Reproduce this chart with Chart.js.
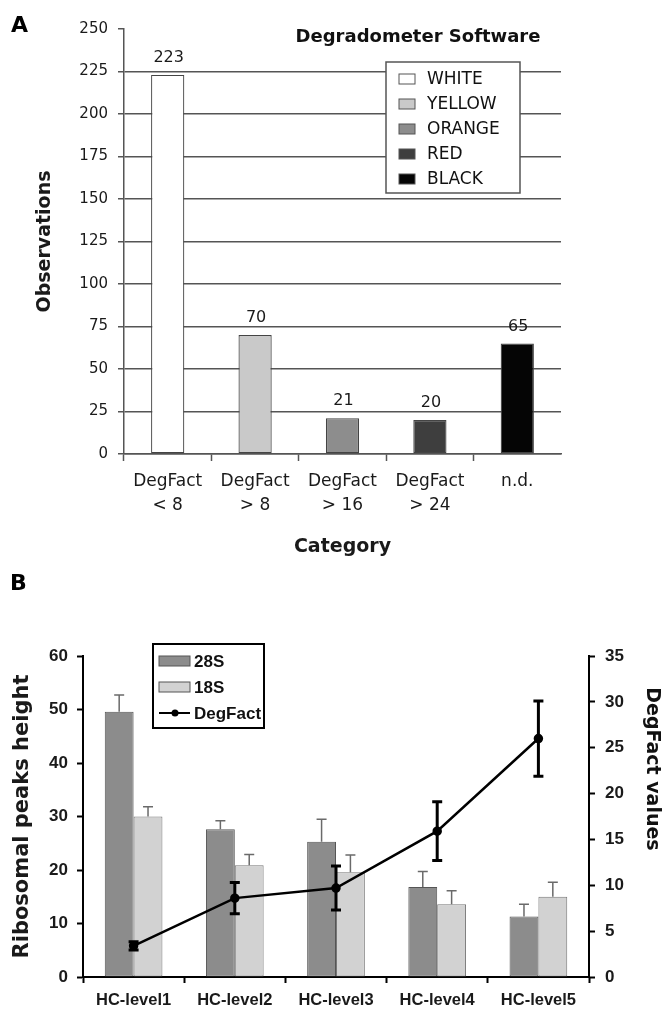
<!DOCTYPE html>
<html>
<head>
<meta charset="utf-8">
<script src="https://cdn.jsdelivr.net/npm/chart.js@4.4.1/dist/chart.umd.min.js"></script>
<style>
  html, body { margin: 0; padding: 0; background: #fff; }
  #wrap { position: relative; width: 666px; height: 1015px; overflow: hidden; }
  #chartA { position: absolute; left: 0; top: 0; }
  #chartB { position: absolute; left: 0; top: 560px; }
</style>
</head>
<body>
<div id="wrap">
  <canvas id="chartA" width="666" height="560"></canvas>
  <canvas id="chartB" width="666" height="455"></canvas>
</div>
<script>
// panel A data
const catA = [['DegFact', '< 8'], ['DegFact', '> 8'], ['DegFact', '> 16'], ['DegFact', '> 24'], 'n.d.'];
const obsA = [223, 70, 21, 20, 65];
const colorNames = ['WHITE', 'YELLOW', 'ORANGE', 'RED', 'BLACK'];
const colorFills = ['#ffffff', '#c9c9c9', '#8d8d8d', '#3e3e3e', '#050505'];

// panel B data
const catB = ['HC-level1', 'HC-level2', 'HC-level3', 'HC-level4', 'HC-level5'];
const peak28 = [49.6, 27.6, 25.3, 16.8, 11.3];
const err28 = [3.1, 1.6, 4.2, 2.9, 2.3];
const peak18 = [30.0, 20.9, 19.6, 13.6, 15.0];
const err18 = [1.8, 2.0, 3.2, 2.5, 2.7];
const degFact = [3.4, 8.6, 9.7, 15.9, 26.0];
const errDeg = [0.45, 1.7, 2.4, 3.2, 4.1];

Chart.defaults.font.family = '"DejaVu Sans", sans-serif';
Chart.defaults.color = '#1a1a1a';
const arialB = '"Liberation Sans", Arial, sans-serif';

const panelLetter = {
  id: 'panelLetter',
  afterDraw(chart, args, opts) {
    const ctx = chart.ctx;
    ctx.save();
    ctx.font = 'bold 22px "DejaVu Sans"';
    ctx.fillStyle = '#000';
    ctx.textBaseline = 'alphabetic';
    ctx.fillText(opts.text, opts.x, opts.y);
    ctx.restore();
  }
};

const valueLabels = {
  id: 'valueLabels',
  afterDatasetsDraw(chart) {
    const ctx = chart.ctx;
    const meta = chart.getDatasetMeta(0);
    ctx.save();
    ctx.font = '16px "DejaVu Sans"';
    ctx.fillStyle = '#1a1a1a';
    ctx.textAlign = 'center';
    ctx.textBaseline = 'alphabetic';
    meta.data.forEach((bar, i) => {
      ctx.fillText(obsA[i], bar.x + 1, bar.y - 13);
    });
    ctx.restore();
  }
};

const legendA = {
  id: 'legendA',
  afterDraw(chart) {
    const ctx = chart.ctx;
    ctx.save();
    ctx.font = 'bold 18px "DejaVu Sans"';
    ctx.fillStyle = '#111';
    ctx.textAlign = 'center';
    ctx.textBaseline = 'middle';
    ctx.fillText('Degradometer Software', 418, 37);

    ctx.fillStyle = '#fff';
    ctx.strokeStyle = '#555';
    ctx.lineWidth = 1.5;
    ctx.fillRect(386, 62, 134, 131);
    ctx.strokeRect(386, 62, 134, 131);
    ctx.font = '17px "DejaVu Sans"';
    ctx.textAlign = 'left';
    colorNames.forEach((name, i) => {
      const y = 79 + i * 25;
      ctx.fillStyle = colorFills[i];
      ctx.fillRect(399, y - 5, 16, 10);
      ctx.strokeStyle = '#555';
      ctx.lineWidth = 1;
      ctx.strokeRect(399, y - 5, 16, 10);
      ctx.fillStyle = '#111';
      ctx.fillText(name, 427, y + 1);
    });
    ctx.restore();
  }
};

new Chart(document.getElementById('chartA'), {
  type: 'bar',
  data: {
    labels: catA,
    datasets: [{
      data: obsA,
      backgroundColor: colorFills,
      borderColor: '#444',
      borderWidth: 1.2,
      borderSkipped: false,
      barPercentage: 0.38,
      categoryPercentage: 1
    }]
  },
  options: {
    responsive: false,
    animation: false,
    layout: { padding: { top: 29, right: 105, left: 0, bottom: 0 } },
    plugins: {
      legend: { display: false },
      tooltip: { enabled: false },
      panelLetter: { text: 'A', x: 11, y: 32 }
    },
    scales: {
      x: {
        afterFit: (s) => { s.height = 106; },
        border: { color: '#555', width: 1.5 },
        grid: {
          drawOnChartArea: false,
          tickLength: 7,
          tickWidth: 1.5,
          tickColor: (c) => c.type === 'tick' ? '#555' : 'transparent'
        },
        ticks: { font: { size: 17, lineHeight: 1.4 }, padding: 9, maxRotation: 0, autoSkip: false },
        title: { display: true, text: 'Category', font: { size: 19, weight: 'bold' }, padding: { top: 0, bottom: 2 } }
      },
      y: {
        min: 0, max: 250,
        afterFit: (s) => { s.width = 124; },
        border: { color: '#555', width: 1.5 },
        grid: {
          color: (c) => c.tick && c.tick.value === 250 ? 'transparent' : '#555',
          lineWidth: 1.5,
          tickLength: 6,
          tickColor: '#555'
        },
        ticks: { stepSize: 25, font: { size: 15 }, padding: 10 },
        title: { display: true, text: 'Observations', font: { size: 19, weight: 'bold' }, padding: { top: 34, bottom: 0 } }
      }
    }
  },
  plugins: [valueLabels, legendA, panelLetter]
});

const errorBars = {
  id: 'errorBars',
  afterDatasetDraw(chart, args) {
    const ds = chart.data.datasets[args.index];
    if (!ds.errors) return;
    const meta = args.meta;
    const scale = chart.scales[meta.yAxisID];
    const isLine = meta.type === 'line';
    const ctx = chart.ctx;
    ctx.save();
    ctx.strokeStyle = isLine ? '#000' : '#6a6a6a';
    ctx.lineWidth = isLine ? 3 : 1.5;
    meta.data.forEach((el, i) => {
      const v = ds.data[i];
      const e = ds.errors[i];
      const yTop = scale.getPixelForValue(v + e);
      const yBot = isLine ? scale.getPixelForValue(v - e) : el.y;
      ctx.beginPath();
      ctx.moveTo(el.x, yBot);
      ctx.lineTo(el.x, yTop);
      ctx.moveTo(el.x - 5, yTop);
      ctx.lineTo(el.x + 5, yTop);
      if (isLine) {
        ctx.moveTo(el.x - 5, yBot);
        ctx.lineTo(el.x + 5, yBot);
      }
      ctx.stroke();
    });
    ctx.restore();
  }
};

const legendB = {
  id: 'legendB',
  afterDraw(chart) {
    const ctx = chart.ctx;
    const sets = chart.data.datasets;
    ctx.save();
    ctx.fillStyle = '#fff';
    ctx.fillRect(153, 84, 111, 84);
    ctx.strokeStyle = '#000';
    ctx.lineWidth = 2;
    ctx.strokeRect(153, 84, 111, 84);
    ctx.font = 'bold 17px ' + arialB;
    ctx.textBaseline = 'middle';
    sets.forEach((ds, i) => {
      const y = 101 + i * 26;
      if (ds.type === 'line') {
        ctx.strokeStyle = '#000';
        ctx.lineWidth = 2;
        ctx.beginPath();
        ctx.moveTo(159, y);
        ctx.lineTo(190, y);
        ctx.stroke();
        ctx.fillStyle = '#000';
        ctx.beginPath();
        ctx.arc(175, y, 3.5, 0, Math.PI * 2);
        ctx.fill();
      } else {
        ctx.fillStyle = ds.backgroundColor;
        ctx.fillRect(159, y - 5, 31, 10);
        ctx.strokeStyle = '#555';
        ctx.lineWidth = 1;
        ctx.strokeRect(159, y - 5, 31, 10);
      }
      ctx.fillStyle = '#111';
      ctx.fillText(ds.label, 194, y + 1);
    });

    // right axis title
    ctx.save();
    ctx.translate(652, 209);
    ctx.rotate(Math.PI / 2);
    ctx.font = 'bold 19px "DejaVu Sans"';
    ctx.textAlign = 'center';
    ctx.fillStyle = '#111';
    ctx.fillText('DegFact values', 0, 0);
    ctx.restore();
    ctx.restore();
  }
};

new Chart(document.getElementById('chartB'), {
  type: 'bar',
  data: {
    labels: catB,
    datasets: [
      { label: '28S', data: peak28, errors: err28, backgroundColor: '#8c8c8c', borderColor: '#555', borderWidth: 1, borderSkipped: false, yAxisID: 'y', order: 2, categoryPercentage: 0.57, barPercentage: 1 },
      { label: '18S', data: peak18, errors: err18, backgroundColor: '#d2d2d2', borderColor: '#777', borderWidth: 1, borderSkipped: false, yAxisID: 'y', order: 2, categoryPercentage: 0.57, barPercentage: 1 },
      { type: 'line', label: 'DegFact', data: degFact, errors: errDeg, borderColor: '#000', borderWidth: 2.5, pointRadius: 3.5, pointBackgroundColor: '#000', pointBorderColor: '#000', tension: 0, yAxisID: 'y2', order: 1 }
    ]
  },
  options: {
    responsive: false,
    animation: false,
    layout: { padding: { top: 96, right: 0, left: 0, bottom: 0 } },
    plugins: {
      legend: { display: false },
      tooltip: { enabled: false },
      panelLetter: { text: 'B', x: 10, y: 30 }
    },
    scales: {
      x: {
        afterFit: (s) => { s.height = 38; },
        border: { color: '#000', width: 2 },
        grid: { drawOnChartArea: false, tickLength: 6, tickWidth: 2, tickColor: '#000' },
        ticks: { font: { family: arialB, size: 16.5, weight: 'bold' }, padding: 8, maxRotation: 0, autoSkip: false }
      },
      y: {
        position: 'left',
        min: 0, max: 60,
        afterFit: (s) => { s.width = 83; },
        border: { color: '#000', width: 2 },
        grid: { drawOnChartArea: false, tickLength: 6, tickWidth: 2, tickColor: '#000' },
        ticks: { stepSize: 10, font: { family: arialB, size: 17, weight: 'bold' }, padding: 9 },
        title: { display: true, text: 'Ribosomal peaks height', font: { size: 21, weight: 'bold' }, padding: { top: 10, bottom: 0 } }
      },
      y2: {
        position: 'right',
        min: 0, max: 35,
        afterFit: (s) => { s.width = 77; },
        border: { color: '#000', width: 2 },
        grid: { drawOnChartArea: false, tickLength: 6, tickWidth: 2, tickColor: '#000' },
        ticks: { stepSize: 5, font: { family: arialB, size: 17, weight: 'bold' }, padding: 10 },
        title: { display: false }
      }
    }
  },
  plugins: [errorBars, legendB, panelLetter]
});
</script>
</body>
</html>
